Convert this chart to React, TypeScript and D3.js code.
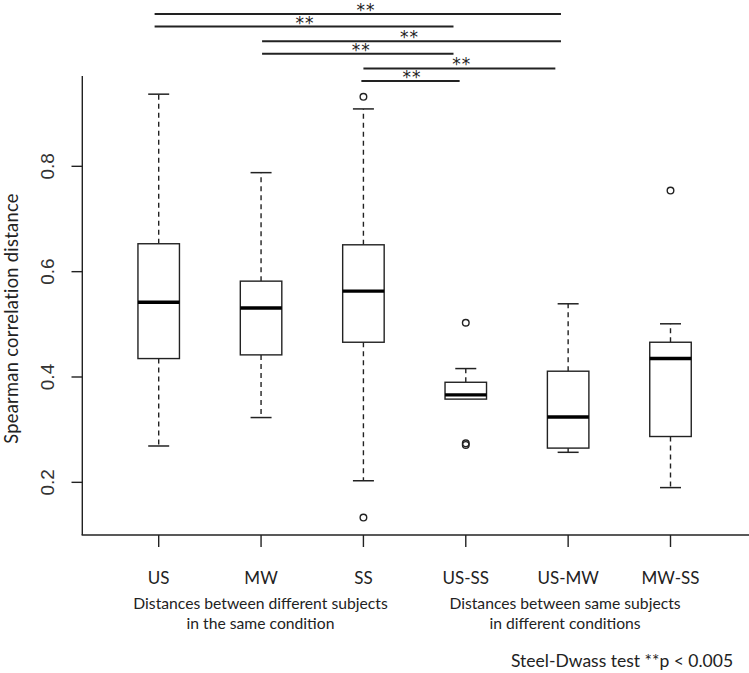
import React from "react";
import * as d3 from "d3";

const categories = ["US", "MW", "SS", "US-SS", "US-MW", "MW-SS"];
const whiskerLow = [0.269, 0.323, 0.203, 0.358, 0.257, 0.19];
const q1 = [0.435, 0.442, 0.466, 0.358, 0.265, 0.287];
const medians = [0.542, 0.531, 0.563, 0.366, 0.324, 0.435];
const q3 = [0.653, 0.582, 0.651, 0.39, 0.411, 0.466];
const whiskerHigh = [0.937, 0.788, 0.909, 0.416, 0.539, 0.501];
const outliers: number[][] = [[], [], [0.932, 0.133], [0.503, 0.274, 0.271], [], [0.754]];
const yTicks = [0.2, 0.4, 0.6, 0.8];

// significance comparisons (Steel-Dwass), positions in category-index units
const sigFrom = [-0.04, -0.04, 1.01, 1.01, 2.0, 1.98];
const sigTo = [3.93, 2.88, 3.93, 2.88, 3.875, 2.94];
const sigStarAt = [2.025, 1.43, 2.45, 1.98, 2.96, 2.475];
const sigLabels = ["**", "**", "**", "**", "**", "**"];

const groupLabels = [
  ["Distances between different subjects", "in the same condition"],
  ["Distances between same subjects", "in different conditions"],
];
const noteText = "Steel-Dwass test **p < 0.005";
const yTitle = "Spearman correlation distance";

const W = 749;
const H = 673;
const calibri = "Lato, 'Open Sans', sans-serif";

export default function App() {
  const x = d3.scaleLinear().domain([0, 5]).range([158.7, 670.5]);
  const y = d3.scaleLinear().domain([0.1, 0.9715]).range([535, 76]);
  const boxW = 41.5;
  const capW = 21;
  const sigY = (i: number) => 14 + Math.floor(i / 2) * 27.2 + (i % 2) * 12.5;

  return (
    <svg width={W} height={H} style={{ position: "absolute", left: 0, top: 0, background: "#fff" }}>
      <rect x={0} y={0} width={W} height={H} fill="#fff" />
      {/* axes frame */}
      <line x1={82.3} x2={82.3} y1={y(0.9715)} y2={y(0.1)} stroke="#222" strokeWidth={1.4} />
      <line x1={81.6} x2={W} y1={y(0.1)} y2={y(0.1)} stroke="#222" strokeWidth={1.4} />
      {yTicks.map((t) => (
        <g key={t}>
          <line x1={71.5} x2={82.3} y1={y(t)} y2={y(t)} stroke="#222" strokeWidth={1.4} />
          <text
            transform={`translate(${54},${y(t)}) rotate(-90)`}
            textAnchor="middle"
            fontFamily="'Liberation Sans', Arial, sans-serif"
            fontSize={19}
            fill="#333"
          >
            {d3.format(".1f")(t)}
          </text>
        </g>
      ))}
      <text
        transform={`translate(${18.2},${318.5}) rotate(-90)`}
        textAnchor="middle"
        fontFamily={calibri}
        fontSize={18.3}
        letterSpacing={0.3}
        fill="#222"
      >
        {yTitle}
      </text>
      {categories.map((c, i) => (
        <g key={c}>
          <line x1={x(i)} x2={x(i)} y1={y(0.1)} y2={y(0.1) + 12} stroke="#222" strokeWidth={1.4} />
          <text x={x(i)} y={583.5} textAnchor="middle" fontFamily={calibri} fontSize={17} fill="#222">
            {c}
          </text>
        </g>
      ))}
      {/* boxes */}
      {categories.map((c, i) => {
        const cx = x(i);
        return (
          <g key={"b" + c}>
            <line x1={cx} x2={cx} y1={y(q3[i])} y2={y(whiskerHigh[i])} stroke="#222" strokeWidth={1.4} strokeDasharray="5,4" />
            <line x1={cx} x2={cx} y1={y(q1[i])} y2={y(whiskerLow[i])} stroke="#222" strokeWidth={1.4} strokeDasharray="5,4" />
            <line x1={cx - capW / 2} x2={cx + capW / 2} y1={y(whiskerHigh[i])} y2={y(whiskerHigh[i])} stroke="#222" strokeWidth={1.5} />
            {whiskerLow[i] < q1[i] && (
              <line x1={cx - capW / 2} x2={cx + capW / 2} y1={y(whiskerLow[i])} y2={y(whiskerLow[i])} stroke="#222" strokeWidth={1.5} />
            )}
            <rect x={cx - boxW / 2} y={y(q3[i])} width={boxW} height={y(q1[i]) - y(q3[i])} fill="#fff" stroke="#222" strokeWidth={1.4} />
            <line x1={cx - boxW / 2} x2={cx + boxW / 2} y1={y(medians[i])} y2={y(medians[i])} stroke="#000" strokeWidth={3.4} />
            {outliers[i].map((o, k) => (
              <circle key={k} cx={cx} cy={y(o)} r={3.3} fill="none" stroke="#222" strokeWidth={1.4} />
            ))}
          </g>
        );
      })}
      {/* significance bars */}
      {sigFrom.map((f, i) => (
        <g key={"s" + i}>
          <line x1={x(f)} x2={x(sigTo[i])} y1={sigY(i)} y2={sigY(i)} stroke="#222" strokeWidth={2} />
          <text
            x={x(sigStarAt[i])}
            y={sigY(i) + 2}
            textAnchor="middle"
            fontFamily="'DejaVu Sans', sans-serif"
            fontSize={17}
            letterSpacing={1}
            fill="#222"
          >
            {sigLabels[i]}
          </text>
        </g>
      ))}
      {/* group labels */}
      {groupLabels.map((lines, g) => (
        <text key={"g" + g} textAnchor="middle" fontFamily={calibri} fontSize={15.7} fill="#222">
          {lines.map((ln, k) => (
            <tspan key={k} x={g === 0 ? 260.5 : 565} y={609.3 + k * 20}>
              {ln}
            </tspan>
          ))}
        </text>
      ))}
      <text x={511} y={667} fontFamily={calibri} fontSize={17.5} fill="#222">
        {noteText}
      </text>
    </svg>
  );
}
